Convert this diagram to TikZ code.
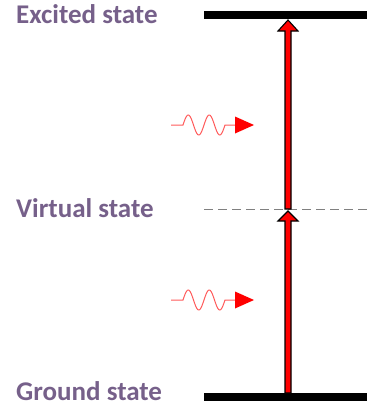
\documentclass[tikz,border=0pt]{standalone}
\usepackage{fontspec}
\setmainfont{Carlito}
\usetikzlibrary{calc}
\definecolor{lbl}{HTML}{76608A}
\definecolor{wavec}{HTML}{FF5A5A}
\tikzset{
  lvl/.style={anchor=west, font=\bfseries\fontsize{27}{31}\selectfont, text=lbl, inner sep=0pt},
  bar/.style={line width=8pt, black},
  virt/.style={line width=1pt, gray, dash pattern=on 9pt off 5pt},
  photon/.style={wavec, line width=1pt},
  uparrow/.style={fill=red, draw=black, line width=1.1pt, line join=miter}
}
\begin{document}
\begin{tikzpicture}[x=1pt,y=1pt]
\useasboundingbox (0,0) rectangle (367,-410);
% levels
\coordinate (exL) at (204,-15);  \coordinate (exR) at (367,-15);
\coordinate (viL) at (204,-209); \coordinate (viR) at (367,-209);
\coordinate (grL) at (204,-397); \coordinate (grR) at (367,-397);
\coordinate (ex) at (288,-19);
\coordinate (vi) at (288,-209);
\coordinate (gr) at (288,-393);
\draw[bar] (exL) -- (exR);
\draw[bar] (grL) -- (grR);
\draw[virt] (viL) -- (viR);
% labels
\node[lvl] (lex) at (16,-14) {Excited state};
\node[lvl] (lvi) at (16,-208) {Virtual state};
\node[lvl] (lgr) at (16,-391) {Ground state};
% arrows
\draw[uparrow] ($(gr)+(-3,0)$) -- ($(vi)+(-3,-12)$) -- ($(vi)+(-10,-12)$) -- ($(vi)+(0,-2)$)
  -- ($(vi)+(10,-12)$) -- ($(vi)+(3,-12)$) -- ($(gr)+(3,0)$) -- cycle;
\draw[uparrow] ($(vi)+(-3,0)$) -- ($(ex)+(-3,-12)$) -- ($(ex)+(-10,-12)$) -- ($(ex)+(0,-1)$)
  -- ($(ex)+(10,-12)$) -- ($(ex)+(3,-12)$) -- ($(vi)+(3,0)$) -- cycle;
% photons
\foreach \yy/\nm in {-125/pa,-300/pb}{
  \coordinate (\nm) at (171,\yy);
  \draw[photon] (\nm) -- ++(12,0)
     -- plot[domain=0:42, samples=90, smooth] ({183+\x},{\yy+10*sin(\x*360/21)})
     -- ++(12,0);
  \fill[red] ($(\nm)+(64,8.5)$) -- ($(\nm)+(83,0)$) -- ($(\nm)+(64,-8.5)$) -- cycle;
}
\end{tikzpicture}
\end{document}
